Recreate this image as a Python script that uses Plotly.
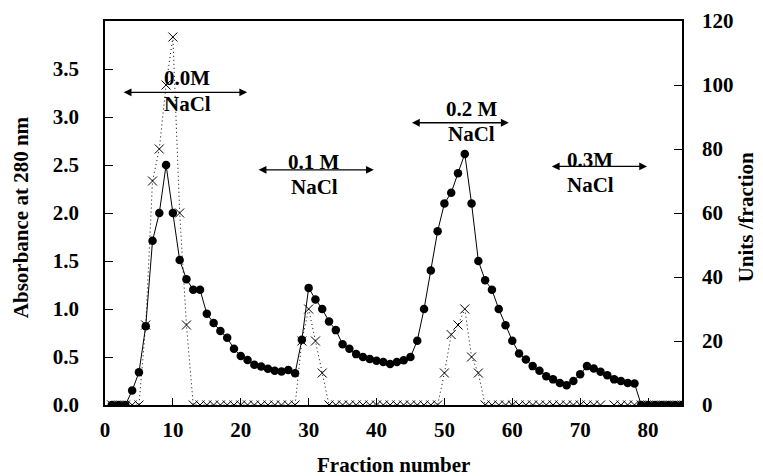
import plotly.graph_objects as go

fractions = list(range(1, 86))

absorbance = [
    0, 0, 0, 0.15, 0.34, 0.82, 1.71, 2.0, 2.5, 2.0,
    1.51, 1.31, 1.2, 1.2, 0.95, 0.855, 0.77, 0.70, 0.585, 0.51,
    0.468, 0.42, 0.40, 0.377, 0.357, 0.35, 0.364, 0.33, 0.68, 1.22,
    1.10, 1.0, 0.87, 0.78, 0.634, 0.585, 0.53, 0.50, 0.48, 0.46,
    0.447, 0.426, 0.447, 0.465, 0.50, 0.67, 1.0, 1.40, 1.81, 2.10,
    2.21, 2.415, 2.615, 2.10, 1.50, 1.30, 1.20, 1.0, 0.83, 0.67,
    0.537, 0.475, 0.405, 0.357, 0.30, 0.267, 0.23, 0.207, 0.25, 0.32,
    0.405, 0.38, 0.347, 0.31, 0.267, 0.25, 0.23, 0.225, 0, 0,
    0, 0, 0, 0, 0,
]

units = [
    0, 0, 0, 0, 0, 25, 70, 80, 100, 115,
    60, 25, 0, 0, 0, 0, 0, 0, 0, 0,
    0, 0, 0, 0, 0, 0, 0, 0, 20, 30,
    20, 10, 0, 0, 0, 0, 0, 0, 0, 0,
    0, 0, 0, 0, 0, 0, 0, 0, 0, 10,
    22, 25, 30, 15, 10, 0, 0, 0, 0, 0,
    0, 0, 0, 0, 0, 0, 0, 0, 0, 0,
    0, 0, 0, None, 0, 0, 0, 0, 0, 0,
    0, 0, 0, 0, 0,
]

x_ticks = [0, 10, 20, 30, 40, 50, 60, 70, 80]
y_left_ticks = [0.0, 0.5, 1.0, 1.5, 2.0, 2.5, 3.0, 3.5]
y_right_ticks = [0, 20, 40, 60, 80, 100, 120]

# salt step labels: (label, text x, label y, NaCl y, arrow x0, arrow x1, arrow y)
salt_steps = [
    ("0.0M", 12.1, 3.41, 3.136, 2.53, 20.94, 3.257),
    ("0.1 M", 30.85, 2.53, 2.27, 22.41, 39.6, 2.45),
    ("0.2 M", 54.0, 3.084, 2.824, 45.0, 59.47, 2.94),
    ("0.3M", 71.5, 2.547, 2.287, 65.6, 79.85, 2.485),
]

FONT = "Liberation Serif"
FS = 21

fig = go.Figure()

fig.add_trace(go.Scatter(
    x=fractions, y=units, yaxis="y2", mode="lines+markers",
    line=dict(color="black", width=1, dash="1px,3px"),
    marker=dict(symbol="x-thin", size=9, line=dict(color="black", width=1)),
    connectgaps=False, showlegend=False,
))

fig.add_trace(go.Scatter(
    x=fractions, y=absorbance, mode="lines+markers",
    line=dict(color="black", width=1),
    marker=dict(symbol="circle", size=8.5, color="black"),
    showlegend=False,
))

annotations = []
for label, tx, ly, ny, ax0, ax1, ay in salt_steps:
    annotations.append(dict(
        x=ax1, y=ay, ax=ax0, ay=ay, xref="x", yref="y", axref="x", ayref="y",
        text="", showarrow=True, arrowhead=2, arrowside="end+start",
        arrowsize=1.2, arrowwidth=1.3, arrowcolor="black", standoff=0, startstandoff=0,
    ))
    annotations.append(dict(
        x=tx, y=ly, xref="x", yref="y", text="<b>%s</b>" % label, showarrow=False,
        xanchor="center", yanchor="middle",
        font=dict(family=FONT, size=FS, color="black"),
    ))
    annotations.append(dict(
        x=tx, y=ny, xref="x", yref="y", text="<b>NaCl</b>", showarrow=False,
        xanchor="center", yanchor="middle",
        font=dict(family=FONT, size=FS, color="black"),
    ))

annotations.append(dict(
    x=-0.145, y=0.49, xref="paper", yref="paper", text="<b>Absorbance at 280 nm</b>",
    textangle=-90, showarrow=False, xanchor="center", yanchor="middle",
    font=dict(family=FONT, size=FS, color="black"),
))
annotations.append(dict(
    x=1.11, y=0.49, xref="paper", yref="paper", text="<b>Units /fraction</b>",
    textangle=-90, showarrow=False, xanchor="center", yanchor="middle",
    font=dict(family=FONT, size=FS, color="black"),
))
annotations.append(dict(
    x=0.5, y=-0.156, xref="paper", yref="paper", text="<b>Fraction number</b>",
    showarrow=False, xanchor="center", yanchor="middle",
    font=dict(family=FONT, size=FS, color="black"),
))

fig.update_layout(
    width=755, height=468,
    margin=dict(l=96.5, r=81.3, t=12.7, b=71),
    paper_bgcolor="white", plot_bgcolor="white",
    font=dict(family=FONT, size=FS, color="black"),
    xaxis=dict(
        range=[0, 85], tickvals=x_ticks, ticktext=["<b>%d</b>" % v for v in x_ticks],
        ticks="inside", ticklen=7, tickwidth=1.2, tickcolor="black",
        showline=True, linecolor="black", linewidth=1.5, mirror=True,
        showgrid=False, zeroline=False, ticklabelstandoff=5, automargin=False,
    ),
    yaxis=dict(
        range=[0, 4.0], tickvals=y_left_ticks, ticktext=["<b>%.1f</b>" % v for v in y_left_ticks],
        ticks="inside", ticklen=8, tickwidth=1.2, tickcolor="black",
        showline=True, linecolor="black", linewidth=1.5,
        showgrid=False, zeroline=False, ticklabelstandoff=20, automargin=False,
    ),
    yaxis2=dict(
        range=[0, 120], tickvals=y_right_ticks, ticktext=["<b>%d</b>" % v for v in y_right_ticks],
        overlaying="y", side="right",
        ticks="inside", ticklen=8, tickwidth=1.2, tickcolor="black",
        showline=True, linecolor="black", linewidth=1.5,
        showgrid=False, zeroline=False, ticklabelstandoff=14, automargin=False,
    ),
    annotations=annotations,
)

fig.write_html("out.html")
